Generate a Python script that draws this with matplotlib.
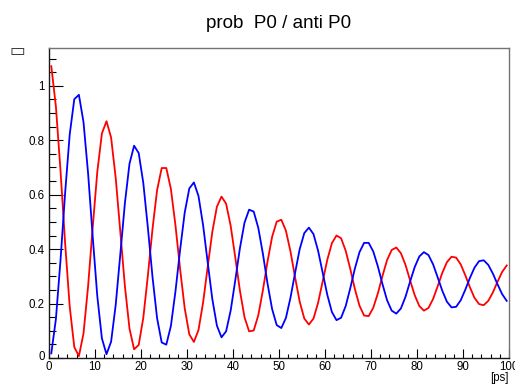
import numpy as np
import matplotlib.pyplot as plt
import matplotlib.transforms as mtransforms
from matplotlib.ticker import MultipleLocator

plt.rcParams['font.family'] = ['Liberation Sans', 'DejaVu Sans']

# one sample per 1 ps bin (bin centres)
t = np.arange(0.5, 100, 1.0)

# P0 -> P0 (red)
prob = [1.072, 0.924, 0.689, 0.423, 0.189, 0.040, 0.007, 0.090, 0.264, 0.480,
        0.684, 0.825, 0.870, 0.810, 0.662, 0.464, 0.264, 0.108, 0.032, 0.048,
        0.148, 0.304, 0.474, 0.617, 0.698, 0.698, 0.621, 0.486, 0.327, 0.183,
        0.087, 0.059, 0.103, 0.204, 0.335, 0.463, 0.556, 0.593, 0.567, 0.485,
        0.369, 0.248, 0.150, 0.098, 0.101, 0.157, 0.249, 0.354, 0.445, 0.501,
        0.508, 0.468, 0.391, 0.296, 0.207, 0.145, 0.123, 0.145, 0.203, 0.282,
        0.361, 0.422, 0.450, 0.440, 0.394, 0.327, 0.253, 0.192, 0.156, 0.154,
        0.185, 0.238, 0.302, 0.360, 0.397, 0.406, 0.385, 0.342, 0.285, 0.231,
        0.191, 0.174, 0.184, 0.217, 0.264, 0.313, 0.352, 0.372, 0.369, 0.344,
        0.304, 0.260, 0.221, 0.198, 0.194, 0.210, 0.241, 0.280, 0.316, 0.340]

# P0 -> anti P0 (blue)
anti = [0.017, 0.143, 0.359, 0.605, 0.821, 0.951, 0.967, 0.867, 0.678, 0.446,
        0.227, 0.072, 0.014, 0.060, 0.195, 0.381, 0.569, 0.714, 0.780, 0.753,
        0.643, 0.478, 0.298, 0.146, 0.057, 0.049, 0.118, 0.246, 0.397, 0.534,
        0.623, 0.645, 0.595, 0.488, 0.351, 0.217, 0.119, 0.076, 0.098, 0.175,
        0.286, 0.403, 0.497, 0.545, 0.538, 0.478, 0.383, 0.274, 0.180, 0.121,
        0.110, 0.147, 0.222, 0.313, 0.400, 0.459, 0.479, 0.455, 0.394, 0.313,
        0.232, 0.169, 0.139, 0.148, 0.191, 0.257, 0.329, 0.389, 0.423, 0.423,
        0.391, 0.336, 0.271, 0.212, 0.174, 0.163, 0.182, 0.225, 0.281, 0.334,
        0.373, 0.389, 0.378, 0.344, 0.296, 0.247, 0.207, 0.186, 0.188, 0.212,
        0.251, 0.294, 0.332, 0.356, 0.359, 0.342, 0.310, 0.271, 0.235, 0.210]

xticks = [0, 10, 20, 30, 40, 50, 60, 70, 80, 90, 100]
yticks = [0, 0.2, 0.4, 0.6, 0.8, 1.0]
ylabels = ['0', '0.2', '0.4', '0.6', '0.8', '1']

fig = plt.figure(figsize=(5.15, 3.87), dpi=100)
ax = fig.add_axes([49/515, 1-358/387, 460/515, 310/387])

ax.plot(t, prob, color='#ff0000', lw=1.3)
ax.plot(t, anti, color='#0000ff', lw=1.3)

ax.set_xlim(0, 100)
ax.set_ylim(0, 1.139)

ax.set_xticks(xticks)
ax.set_xticklabels([str(v) for v in xticks])
ax.xaxis.set_minor_locator(MultipleLocator(2))
ax.set_yticks(yticks)
ax.set_yticklabels(ylabels)
ax.yaxis.set_minor_locator(MultipleLocator(0.05))

ax.tick_params(axis='x', which='major', direction='in', length=6.5, width=0.8, pad=2.5,
               labelsize=8.3, top=False)
ax.tick_params(axis='x', which='minor', direction='in', length=3.2, width=0.8, top=False)
ax.tick_params(axis='y', which='major', direction='in', length=10, width=0.8, pad=3,
               labelsize=8.3, right=False)
ax.tick_params(axis='y', which='minor', direction='in', length=5, width=0.8, right=False)

# ROOT lifts the zero label a little
lbl0 = ax.get_yticklabels()[0]
lbl0.set_transform(lbl0.get_transform() + mtransforms.ScaledTranslation(0, 2.5/100, fig.dpi_scale_trans))

for s in ['left', 'bottom']:
    ax.spines[s].set_color('0.1')
    ax.spines[s].set_linewidth(1.0)
for s in ['top', 'right']:
    ax.spines[s].set_color('0.45')
    ax.spines[s].set_linewidth(1.0)

fig.text(279/515, 1-28.3/387, 'prob  P0 / anti P0', ha='center', va='baseline', fontsize=13.5)
fig.text(509/515, 1-378/387, '[ps]', ha='right', va='center', fontsize=8.3)
fig.text(17/515, 1-51.5/387, '\u25ad', ha='center', va='center',
         fontsize=12, color='0.2', family='DejaVu Sans')

plt.savefig('out.png', dpi=100)
